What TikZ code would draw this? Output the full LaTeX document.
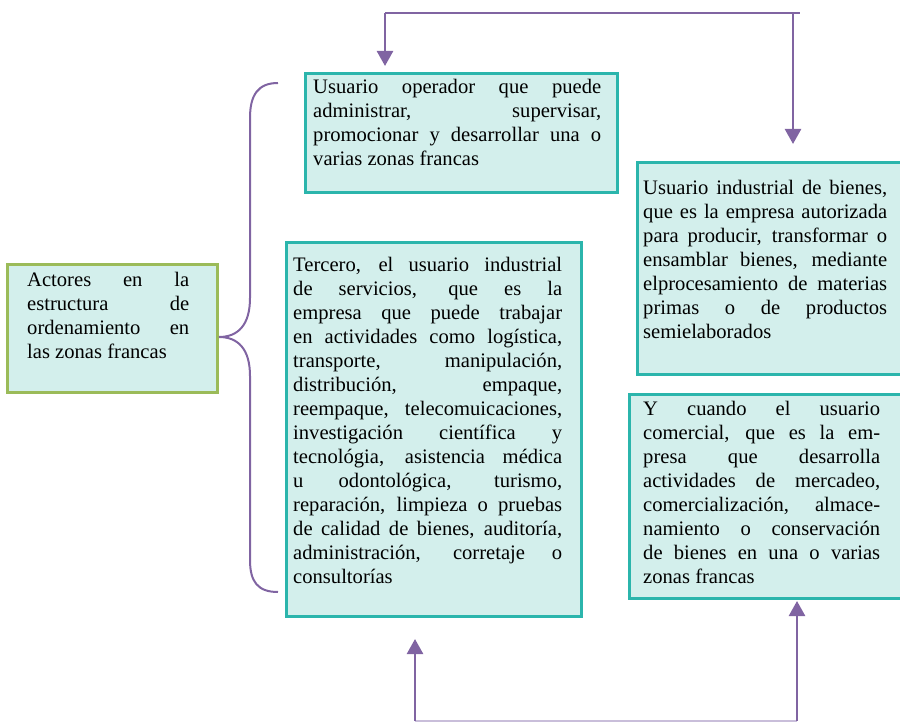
\documentclass[tikz,border=0pt]{standalone}
\usepackage{fontspec}
\setmainfont{Liberation Serif}
\usetikzlibrary{arrows.meta,calc}
\definecolor{tealfill}{HTML}{D3EFEC}
\definecolor{tealline}{HTML}{2BB5AC}
\definecolor{greenline}{HTML}{9BBB59}
\definecolor{purp}{HTML}{8064A2}
\definecolor{lavender}{HTML}{C9BEDA}
\newcommand\jline[1]{\hbox to\hsize{#1}}
\newcommand\lline[1]{\hbox{#1}}
\newcommand\tblock[2]{\vtop{\hsize=#1\relax\hbadness=10000 #2}}
\begin{document}
\begin{tikzpicture}[x=1pt,y=-1pt,
  boxt/.style={draw=tealline,fill=tealfill,line width=3pt,anchor=north west,inner sep=0pt},
  boxg/.style={draw=greenline,fill=tealfill,line width=3pt,anchor=north west,inner sep=0pt},
  txt/.style={anchor=base west,inner sep=0pt,font=\fontsize{20.6pt}{24pt}\selectfont},
  conn/.style={draw=purp,line width=2.5pt},
  arr/.style={conn,-{Triangle[width=16pt,length=15pt]}},
  brace/.style={draw=purp,line width=2pt}]
\useasboundingbox (0,0) rectangle (900,722);
% boxes
\node[boxg,minimum width=210pt,minimum height=128pt] (act) at (6,263) {};
\node[boxt,minimum width=312pt,minimum height=119pt] (op) at (304,72) {};
\node[boxt,minimum width=295pt,minimum height=374pt] (ter) at (285,241) {};
\node[boxt,minimum width=270pt,minimum height=212pt] (ind) at (636,161) {};
\node[boxt,minimum width=278pt,minimum height=204pt] (com) at (628,393) {};
% texts
\node[txt] (actt) at (27,287) {\tblock{162pt}{\jline{Actores en la}\jline{estructura de}\jline{ordenamiento en}\lline{las zonas francas}}};
\node[txt] (opt) at (313,94) {\tblock{288pt}{\jline{Usuario operador que puede}\jline{administrar, supervisar,}\jline{promocionar y desarrollar una o}\lline{varias zonas francas}}};
\node[txt] (tert) at (293,272) {\tblock{269pt}{\jline{Tercero, el usuario industrial}\jline{de servicios, que es la}\jline{empresa que puede trabajar}\jline{en actividades como logística,}\jline{transporte, manipulación,}\jline{distribución, empaque,}\jline{reempaque, telecomuicaciones,}\jline{investigación científica y}\jline{tecnológia, asistencia médica}\jline{u odontológica, turismo,}\jline{reparación, limpieza o pruebas}\jline{de calidad de bienes, auditoría,}\jline{administración, corretaje o}\lline{consultorías}}};
\node[txt] (indt) at (643,195) {\tblock{244pt}{\jline{Usuario industrial de bienes,}\jline{que es la empresa autorizada}\jline{para producir, transformar o}\jline{ensamblar bienes, mediante}\jline{elprocesamiento de materias}\jline{primas o de productos}\lline{semielaborados}}};
\node[txt] (comt) at (643,415) {\tblock{237pt}{\jline{Y cuando el usuario}\jline{comercial, que es la em-}\jline{presa que desarrolla}\jline{actividades de mercadeo,}\jline{comercialización, almace-}\jline{namiento o conservación}\jline{de bienes en una o varias}\lline{zonas francas}}};
% brace
\draw[brace] (278,83) .. controls (258,83) and (250,95) .. (250,118) -- (250,298)
  .. controls (250,325) and (238,337) .. (act.east |- 0,337)
  .. controls (238,337) and (250,349) .. (250,376) -- (250,560)
  .. controls (250,582) and (258,592) .. (278,592);
% top connector
\coordinate (tl) at (385,13);
\coordinate (tr) at (800,13);
\coordinate (tm) at (793,13);
\draw[conn] (tl) -- (tr);
\draw[arr,shorten >=6pt] (tl) -- ($(op.north west)+(81,0)$);
\draw[arr,shorten >=17pt] (tm) -- ($(ind.north west)+(157,0)$);
% bottom connector
\coordinate (bl) at (415,721);
\coordinate (br) at (797,721);
\draw[draw=lavender,line width=1.5pt] (bl) -- (br);
\draw[arr,shorten >=21pt] (bl) -- ($(ter.south west)+(130,0)$);
\draw[arr,shorten >=1pt] (br) -- ($(com.south west)+(169,0)$);
\end{tikzpicture}
\end{document}
